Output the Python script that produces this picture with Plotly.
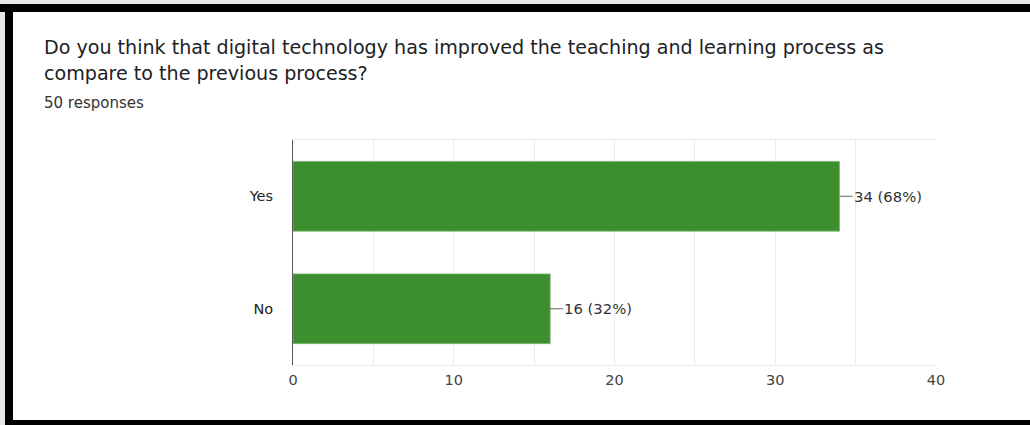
import plotly.graph_objects as go

categories = ["No", "Yes"]
counts = [16, 34]
labels = ["16 (32%)", "34 (68%)"]
x_ticks = [0, 10, 20, 30, 40]
title_lines = ["Do you think that digital technology has improved the teaching and learning process as",
               "compare to the previous process?"]
subtitle = "50 responses"

W, H = 1030, 425
L, R, T, B = 293, 94, 140, 60
PW, PH = W - L - R, H - T - B
FONT = "DejaVu Sans"

def px(x):
    return (x - L) / PW

def py(y):
    return (H - B - y) / PH

fig = go.Figure()
fig.add_trace(go.Bar(
    x=counts, y=categories, orientation="h", width=0.62,
    marker=dict(color="#3d8e2f", line=dict(color="#7fb874", width=0.8)),
    hoverinfo="skip",
))

annotations = []
for c, v, t in zip(categories, counts, labels):
    annotations.append(dict(
        x=v, y=c, xref="x", yref="y", text=t, showarrow=True,
        arrowhead=0, arrowwidth=1, arrowcolor="#666", ax=13, ay=0,
        xanchor="left", yanchor="middle", borderpad=0, standoff=0, startstandoff=0,
        font=dict(family=FONT, size=14.8, color="#333"),
    ))

annotations.append(dict(x=px(42), y=py(47), xref="paper", yref="paper", text=title_lines[0],
                        showarrow=False, xanchor="left", yanchor="middle",
                        font=dict(family=FONT, size=19.1, color="#202124")))
annotations.append(dict(x=px(42), y=py(73), xref="paper", yref="paper", text=title_lines[1],
                        showarrow=False, xanchor="left", yanchor="middle",
                        font=dict(family=FONT, size=19.1, color="#202124")))
annotations.append(dict(x=px(42), y=py(103), xref="paper", yref="paper", text=subtitle,
                        showarrow=False, xanchor="left", yanchor="middle",
                        font=dict(family=FONT, size=15, color="#333")))

shapes = []
def rect(x0, y0, x1, y1, color):
    shapes.append(dict(type="rect", xref="paper", yref="paper",
                       x0=px(x0), x1=px(x1), y0=py(y0), y1=py(y1),
                       fillcolor=color, line=dict(width=0), layer="above"))

rect(0, 0, W, 4, "#e8e8e8")
rect(0, 0, 5, H, "#e8e8e8")
rect(0, 4, W, 12, "#000000")
rect(5, 4, 13, H, "#000000")
rect(5, 420, W, H, "#000000")

fig.update_layout(
    width=W, height=H,
    margin=dict(l=L, r=R, t=T, b=B, pad=0),
    paper_bgcolor="white", plot_bgcolor="white",
    showlegend=False,
    annotations=annotations, shapes=shapes,
    xaxis=dict(range=[0, 40], tickvals=x_ticks, showgrid=True, gridcolor="#ebebeb",
               minor=dict(dtick=5, showgrid=True, gridcolor="#ebebeb"),
               showline=True, linecolor="#ebebeb", mirror=True, zeroline=False,
               ticks="", ticklabelstandoff=2,
               tickfont=dict(family=FONT, size=14.5, color="#444"),
               fixedrange=True),
    yaxis=dict(categoryorder="array", categoryarray=categories, range=[-0.5, 1.5],
               showgrid=False, showline=True, linecolor="#555", linewidth=1, zeroline=False,
               ticks="", ticklabelstandoff=16,
               tickfont=dict(family=FONT, size=14.5, color="#222"),
               fixedrange=True),
)

fig.write_html("out.html", config={"displayModeBar": False},
               post_script="document.body.style.margin='0';document.body.style.overflow='hidden';")
